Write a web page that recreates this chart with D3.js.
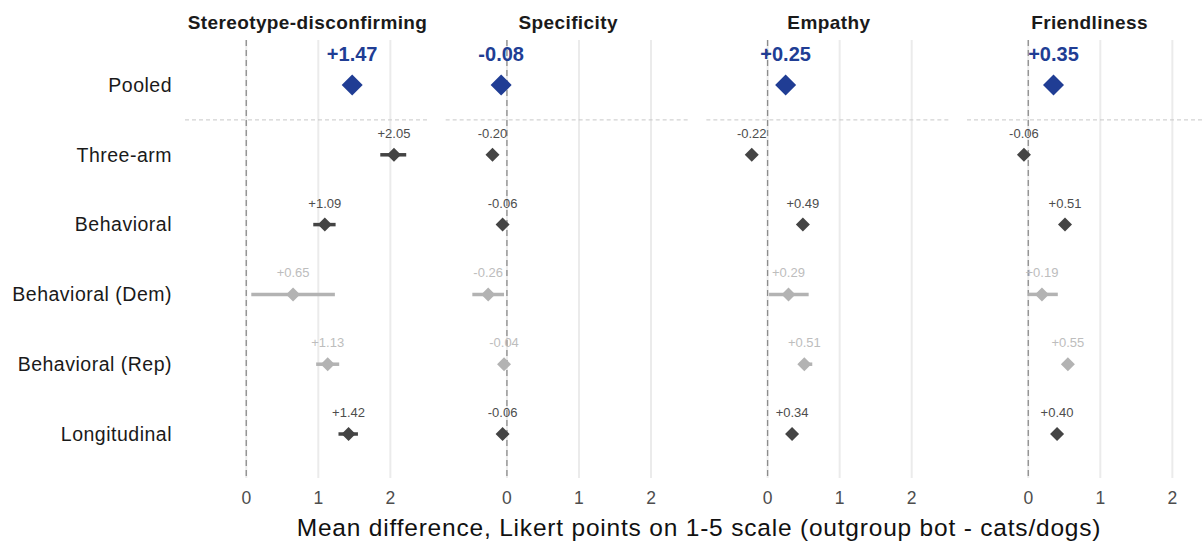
<!DOCTYPE html>
<html>
<head>
<meta charset="utf-8">
<script src="https://cdn.jsdelivr.net/npm/d3@7"></script>
<style>
  body { margin: 0; background: #fff; }
  svg { font-family: "Liberation Sans", Arial, Helvetica, sans-serif; display: block; }
</style>
</head>
<body>
<div id="chart"></div>
<script>
// rows (top to bottom) and panels
const rows = ["Pooled", "Three-arm", "Behavioral", "Behavioral (Dem)", "Behavioral (Rep)", "Longitudinal"];
const panels = ["Stereotype-disconfirming", "Specificity", "Empathy", "Friendliness"];
// rows drawn in light grey (subgroups)
const faded = ["Behavioral (Dem)", "Behavioral (Rep)"];

// point estimates, one array per panel, in row order
const stereotype = [1.47, 2.05, 1.09, 0.65, 1.13, 1.42];
const specificity = [-0.08, -0.20, -0.06, -0.26, -0.04, -0.06];
const empathy = [0.25, -0.22, 0.49, 0.29, 0.51, 0.34];
const friendliness = [0.35, -0.06, 0.51, 0.19, 0.55, 0.40];

// 95% CI bounds
const stereotypeLo = [1.47, 1.86, 0.93, 0.07, 0.97, 1.28];
const stereotypeHi = [1.47, 2.22, 1.24, 1.23, 1.29, 1.55];
const specificityLo = [-0.08, -0.26, -0.11, -0.48, -0.09, -0.11];
const specificityHi = [-0.08, -0.14, -0.01, -0.04, 0.01, -0.01];
const empathyLo = [0.25, -0.28, 0.44, 0.02, 0.44, 0.29];
const empathyHi = [0.25, -0.16, 0.54, 0.57, 0.62, 0.39];
const friendlinessLo = [0.35, -0.11, 0.46, 0.0, 0.48, 0.35];
const friendlinessHi = [0.35, -0.01, 0.56, 0.41, 0.62, 0.45];

const xTicks = [0, 1, 2];
const axisTitle = "Mean difference, Likert points on 1-5 scale (outgroup bot - cats/dogs)";

const estimates = [stereotype, specificity, empathy, friendliness];
const los = [stereotypeLo, specificityLo, empathyLo, friendlinessLo];
const his = [stereotypeHi, specificityHi, empathyHi, friendlinessHi];

const W = 1202, H = 541;
const cfg = {
  left: 185, panelWidth: 245, panelStep: 260.67,
  top: 40, bottom: 478,
  blue: "#203d94", dark: "#444444", light: "#b3b3b3"
};

const svg = d3.select("#chart").append("svg")
  .attr("width", W).attr("height", H);

const y = d3.scalePoint().domain(rows).range([85, 434]);
const x = d3.scaleLinear().domain([-0.85, 2.55]).range([0, cfg.panelWidth]);

// row labels
svg.append("g").selectAll("text")
  .data(rows).join("text")
  .attr("x", 172).attr("y", d => y(d))
  .attr("dy", "0.35em")
  .attr("text-anchor", "end")
  .attr("font-size", 19.5)
  .attr("letter-spacing", 0.5)
  .attr("fill", "#1a1a1a")
  .text(d => d);

panels.forEach((name, p) => {
  const g = svg.append("g")
    .attr("transform", `translate(${cfg.left + p * cfg.panelStep},0)`);

  // gridlines
  g.append("g").selectAll("line")
    .data(xTicks).join("line")
    .attr("x1", d => x(d)).attr("x2", d => x(d))
    .attr("y1", cfg.top).attr("y2", cfg.bottom)
    .attr("stroke", "#ebebeb").attr("stroke-width", 2);

  // zero reference
  g.append("line")
    .attr("x1", x(0)).attr("x2", x(0))
    .attr("y1", cfg.top).attr("y2", cfg.bottom)
    .attr("stroke", "#8c8c8c").attr("stroke-width", 1.3)
    .attr("stroke-dasharray", "6,4");

  // separator under pooled row
  g.append("line")
    .attr("x1", 0).attr("x2", cfg.panelWidth)
    .attr("y1", (y(rows[0]) + y(rows[1])) / 2)
    .attr("y2", (y(rows[0]) + y(rows[1])) / 2)
    .attr("stroke", "#c8c8c8").attr("stroke-width", 1)
    .attr("stroke-dasharray", "4,3");

  // panel title
  g.append("text")
    .attr("x", cfg.panelWidth / 2).attr("y", 29)
    .attr("text-anchor", "middle")
    .attr("font-size", 19).attr("font-weight", "bold")
    .attr("letter-spacing", 0.4)
    .attr("fill", "#1a1a1a")
    .text(name);

  // tick labels
  g.append("g").selectAll("text")
    .data(xTicks).join("text")
    .attr("x", d => x(d)).attr("y", 504)
    .attr("text-anchor", "middle")
    .attr("font-size", 17.5).attr("fill", "#4d4d4d")
    .text(d => d);

  const data = rows.map((r, i) => ({
    row: r, est: estimates[p][i], lo: los[p][i], hi: his[p][i],
    pooled: i === 0, faded: faded.includes(r)
  }));
  const col = d => d.pooled ? cfg.blue : d.faded ? cfg.light : cfg.dark;
  const fmt = v => (v >= 0 ? "+" : "") + v.toFixed(2);

  // CI bars
  g.append("g").selectAll("line")
    .data(data.filter(d => !d.pooled)).join("line")
    .attr("x1", d => x(d.lo)).attr("x2", d => x(d.hi))
    .attr("y1", d => y(d.row)).attr("y2", d => y(d.row))
    .attr("stroke", col).attr("stroke-width", 3.5);

  // diamonds
  g.append("g").selectAll("path")
    .data(data).join("path")
    .attr("transform", d => `translate(${x(d.est)},${y(d.row)})`)
    .attr("d", d => {
      const r = d.pooled ? 10.5 : 7;
      return `M0,${-r}L${r},0L0,${r}L${-r},0Z`;
    })
    .attr("fill", col);

  // value labels
  g.append("g").selectAll("text")
    .data(data).join("text")
    .attr("x", d => x(d.est))
    .attr("y", d => y(d.row) - (d.pooled ? 24 : 17))
    .attr("text-anchor", "middle")
    .attr("font-size", d => d.pooled ? 20 : 13)
    .attr("font-weight", d => d.pooled ? "bold" : "normal")
    .attr("fill", d => d.pooled ? cfg.blue : d.faded ? "#bdbdbd" : "#4d4d4d")
    .text(d => fmt(d.est));
});

// x axis title
svg.append("text")
  .attr("x", 699).attr("y", 536)
  .attr("text-anchor", "middle")
  .attr("font-size", 24.5).attr("fill", "#111")
  .attr("letter-spacing", 0.8)
  .text(axisTitle);
</script>
</body>
</html>
